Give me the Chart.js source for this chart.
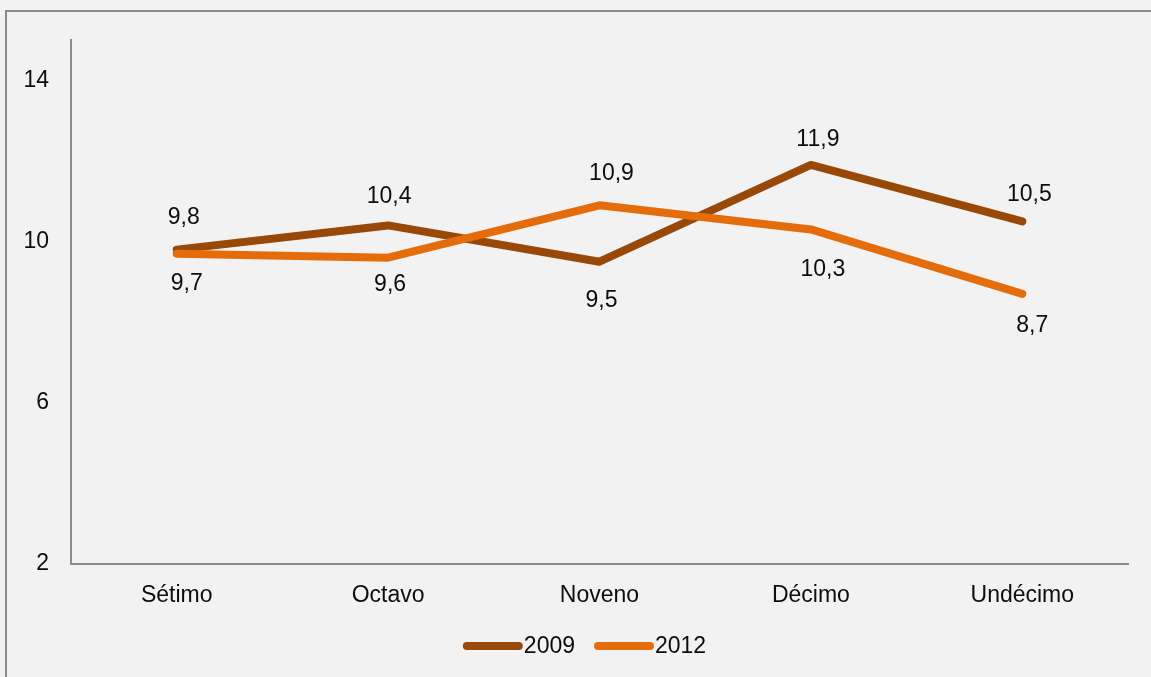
<!DOCTYPE html>
<html lang="es">
<head>
  <meta charset="UTF-8">
  <title>Sétimo a Undécimo, 2009 y 2012</title>
  <script src="https://cdn.jsdelivr.net/npm/chart.js"></script>
  <style>
    body {
      margin: 0;
      background: #f2f2f2;
    }
    #wrap {
      position: relative;
      width: 1151px;
      height: 677px;
    }
  </style>
</head>
<body>
<div id="wrap"><canvas id="levelChart"></canvas></div>

<script>
  const categories = ['Sétimo', 'Octavo', 'Noveno', 'Décimo', 'Undécimo'];
  const seriesLabels = ['2009', '2012'];
  const values2009 = [9.8, 10.4, 9.5, 11.9, 10.5];
  const values2012 = [9.7, 9.6, 10.9, 10.3, 8.7];
  const yTicks = [2, 6, 10, 14];

  const FONT = "'Liberation Sans', Arial, sans-serif";
  const TEXT = '#0d0d0d';
  const AXIS = '#8c8c8c';

  // where each value label sits relative to its point (dx, dy in px)
  const labelOffsets = [
    [[7, -33], [1, -30], [2, 38], [7, -26], [7, -28]],
    [[10, 29], [2, 26], [12, -33], [12, 39], [10, 31]]
  ];

  const fmt = v => v.toFixed(1).replace('.', ',');

  // outer frame of the chart
  const framePlugin = {
    id: 'frame',
    beforeDraw(chart) {
      const c = chart.ctx;
      c.save();
      c.strokeStyle = AXIS;
      c.lineWidth = 2;
      c.strokeRect(6, 11, chart.width + 50, chart.height + 50);
      c.restore();
    }
  };

  // value labels next to each point
  const valueLabels = {
    id: 'valueLabels',
    afterDatasetsDraw(chart) {
      const c = chart.ctx;
      c.save();
      c.font = '23px ' + FONT;
      c.fillStyle = TEXT;
      c.textAlign = 'center';
      c.textBaseline = 'middle';
      chart.data.datasets.forEach((ds, i) => {
        const meta = chart.getDatasetMeta(i);
        meta.data.forEach((pt, j) => {
          const [dx, dy] = labelOffsets[i][j];
          c.fillText(fmt(ds.data[j]), pt.x + dx, pt.y + dy + 1);
        });
      });
      c.restore();
    }
  };

  // legend: thick rounded line sample followed by the series name
  const lineLegend = {
    id: 'lineLegend',
    afterDraw(chart) {
      const c = chart.ctx;
      const sample = 60, gap = 19, y = 646;
      c.save();
      c.font = '23px ' + FONT;
      const items = chart.data.datasets.map(ds => ({
        ds, w: sample + 1 + c.measureText(ds.label).width
      }));
      const total = items.reduce((s, it) => s + it.w, 0) + gap * (items.length - 1);
      let x = chart.width / 2 + 9 - total / 2;
      items.forEach(it => {
        c.strokeStyle = it.ds.borderColor;
        c.lineWidth = 8;
        c.lineCap = 'round';
        c.beginPath();
        c.moveTo(x + 4, y);
        c.lineTo(x + sample - 4, y);
        c.stroke();
        c.fillStyle = TEXT;
        c.textAlign = 'left';
        c.textBaseline = 'middle';
        c.fillText(it.ds.label, x + sample + 1, y + 1);
        x += it.w + gap;
      });
      c.restore();
    }
  };

  const ctx = document.getElementById('levelChart').getContext('2d');
  const levelChart = new Chart(ctx, {
    type: 'line',
    data: {
      labels: categories,
      datasets: [
        {
          label: seriesLabels[0],
          data: values2009,
          borderColor: '#984807',
          order: 1
        },
        {
          label: seriesLabels[1],
          data: values2012,
          borderColor: '#E46C0A',
          order: 0
        }
      ]
    },
    options: {
      responsive: true,
      maintainAspectRatio: false,
      animation: false,
      layout: {
        padding: { left: 0, top: 40, right: 23, bottom: 0 }
      },
      elements: {
        line: {
          borderWidth: 8,
          tension: 0,
          borderCapStyle: 'round',
          borderJoinStyle: 'round'
        },
        point: { radius: 0, hoverRadius: 0 }
      },
      scales: {
        x: {
          offset: true,
          grid: { display: false, drawTicks: false },
          border: { display: true, color: AXIS, width: 2 },
          ticks: {
            padding: 18,
            color: TEXT,
            font: { family: FONT, size: 23 },
            maxRotation: 0
          },
          afterFit(scale) { scale.height = 113; }
        },
        y: {
          min: 2,
          max: 15,
          grid: { display: false, drawTicks: false },
          border: { display: true, color: AXIS, width: 2 },
          ticks: {
            padding: 22,
            color: TEXT,
            font: { family: FONT, size: 23 }
          },
          afterBuildTicks(scale) {
            scale.ticks = yTicks.map(v => ({ value: v }));
          },
          afterFit(scale) { scale.width = 71; }
        }
      },
      plugins: {
        legend: { display: false },
        tooltip: { enabled: false }
      }
    },
    plugins: [framePlugin, valueLabels, lineLegend]
  });
</script>
</body>
</html>
